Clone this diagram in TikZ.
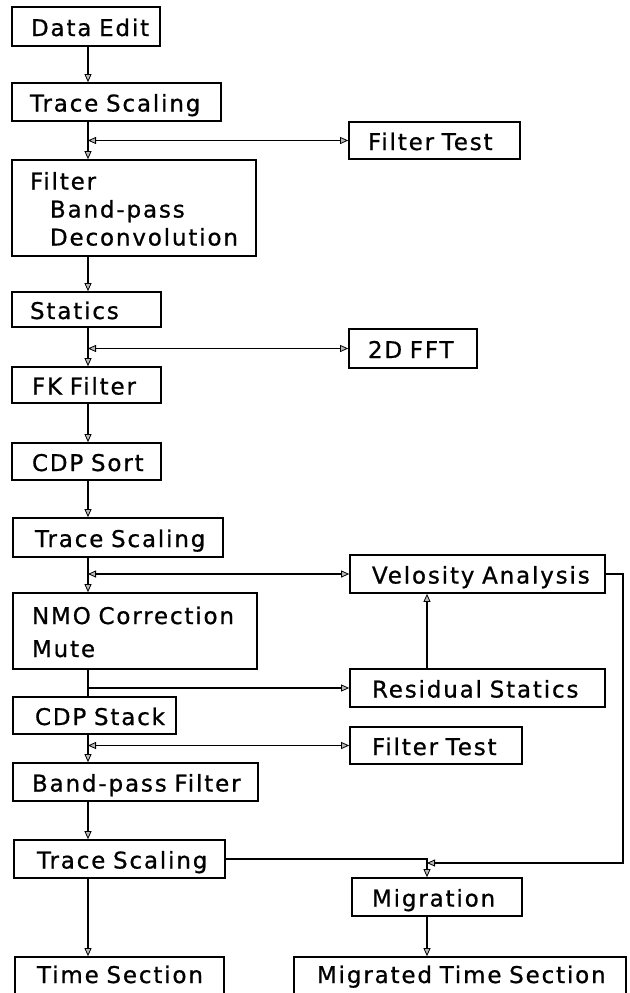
\documentclass[tikz,border=0pt]{standalone}
\usepackage{fontspec}
\newfontfamily\plotfont{DejaVu Sans}[LetterSpace=8,FakeBold=0.8,WordSpace=1.6]
\usetikzlibrary{arrows.meta}

\tikzset{
  x=1pt, y=1pt,
  >={Triangle[length=8pt,width=7pt,fill=gray!55,line width=0.8pt]},
  box/.style={draw, line width=1.7pt, inner xsep=0pt, inner ysep=0pt,
    align=left, text height=19pt, text depth=0pt,
    font=\plotfont\fontsize{23}{28}\selectfont,
    execute at begin node={\hyphenpenalty=10000 \exhyphenpenalty=10000 \hbadness=10000 \hfuzz=100pt }},
  flow/.style={line width=1.4pt},
}

% \procbox[options]{name}{x1}{y1}{x2}{y2}{left padding}{text}
% corners are given with y measured downwards
\newcommand\procbox[8][]{%
  \pgfmathsetmacro\pbw{#5-#3}%
  \pgfmathsetmacro\pbh{#6-#4}%
  \pgfmathsetmacro\pbt{#5-#3-2*#7}%
  \pgfmathsetmacro\pbx{(#3+#5)/2}%
  \pgfmathsetmacro\pby{-(#4+#6)/2}%
  \node[box, minimum width=\pbw pt, minimum height=\pbh pt,
        text width=\pbt pt, #1] (#2) at (\pbx pt,\pby pt) {#8};}

\begin{document}
\begin{tikzpicture}
\useasboundingbox (0,0) rectangle (629,-993);
\fill[white] (0,0) rectangle (629,-993);

% processing steps
\procbox{dataedit}{12}{7}{160}{46}{19}{\mbox{Data Edit}}
\procbox{ts1}{12}{83}{221}{121}{18}{\mbox{Trace Scaling}}
\procbox[text depth=56pt]{filter}{12}{160}{256}{256}{18}{Filter\\\hspace*{20pt}\mbox{Band-pass}\\\hspace*{20pt}\mbox{Deconvolution}}
\procbox{ft1}{349}{122}{520}{159}{19}{\mbox{Filter Test}}
\procbox{statics}{12}{292}{161}{327}{18}{\mbox{Statics}}
\procbox{fft}{349}{329}{477}{368}{19}{\mbox{2D FFT}}
\procbox{fk}{12}{367}{161}{403}{20}{\mbox{FK Filter}}
\procbox{cdpsort}{12}{443}{161}{480}{20}{\mbox{CDP Sort}}
\procbox{ts2}{13}{518}{223}{557}{22}{\mbox{Trace Scaling}}
\procbox{velo}{350}{555}{605}{593}{22}{\mbox{Velosity Analysis}}
\procbox[text depth=33pt]{nmo}{13}{593}{257}{669}{19}{\mbox{NMO Correction}\\[5pt]Mute}
\procbox{resid}{350}{669}{605}{707}{22}{\mbox{Residual Statics}}
\procbox{cdpstack}{13}{697}{176}{734}{22}{\mbox{CDP Stack}}
\procbox{ft2}{350}{727}{522}{764}{22}{\mbox{Filter Test}}
\procbox{bandpass}{13}{763}{258}{801}{19}{\mbox{Band-pass Filter}}
\procbox{ts3}{14}{840}{225}{878}{23}{\mbox{Trace Scaling}}
\procbox{migration}{352}{878}{522}{916}{20}{\mbox{Migration}}
\procbox[text depth=10pt]{timesec}{15}{957}{224}{1000}{22}{\mbox{Time Section}}
\procbox[text depth=10pt]{migtime}{294}{957}{626}{1000}{23}{\mbox{Migrated Time Section}}

% columns of the connectors
\coordinate (col) at (88,0);
\coordinate (mcol) at (427,0);
\coordinate (rcol) at (623,0);
\coordinate (join) at (427,-863);

% main flow
\draw[flow,->] (dataedit.south -| col) -- (ts1.north -| col);
\draw[flow,->] (ts1.south -| col) -- (filter.north -| col);
\draw[flow,->] (filter.south -| col) -- (statics.north -| col);
\draw[flow,->] (statics.south -| col) -- (fk.north -| col);
\draw[flow,->] (fk.south -| col) -- (cdpsort.north -| col);
\draw[flow,->] (cdpsort.south -| col) -- (ts2.north -| col);
\draw[flow,->] (ts2.south -| col) -- (nmo.north -| col);
\draw[flow] (nmo.south -| col) -- (cdpstack.north -| col);
\draw[flow,->] (cdpstack.south -| col) -- (bandpass.north -| col);
\draw[flow,->] (bandpass.south -| col) -- (ts3.north -| col);
\draw[flow,->] (ts3.south -| col) -- (timesec.north -| col);

% side branches
\draw[flow,<->] (col |- ft1.west) -- (ft1.west);
\draw[flow,<->] (col |- fft.west) -- (fft.west);
\draw[flow,<->] (col |- velo.west) -- (velo.west);
\draw[flow,->] (col |- resid.west) -- (resid.west);
\draw[flow,<->] (col |- ft2.west) -- (ft2.west);
\draw[flow,->] (resid.north -| mcol) -- (velo.south -| mcol);

% migration branch
\draw[flow,->] (ts3.east) -| (migration.north -| mcol);
\draw[flow,->] (velo.east) -- (velo.east -| rcol) -- (rcol |- join) -- (join);
\draw[flow,->] (migration.south -| mcol) -- (migtime.north -| mcol);
\end{tikzpicture}
\end{document}
